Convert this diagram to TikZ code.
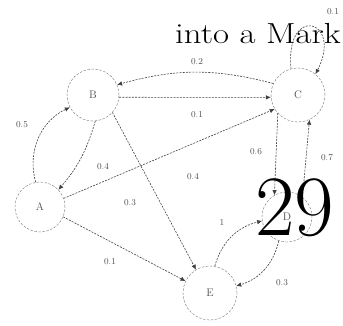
\documentclass[tikz,border=0pt]{standalone}
\usepackage{xcolor}
\usepackage{tikz}
\usetikzlibrary{arrows.meta}
\tikzset{
  statenode/.style={circle,draw=black!55,dash pattern=on 2.5pt off 1.5pt,
    minimum size=50pt,inner sep=0pt,font=\fontsize{11}{12}\selectfont,text=black!70},
  chainarrow/.style={-{Latex[length=5pt,width=4.5pt]},draw=black!75,
    dash pattern=on 2pt off 1.2pt,line width=0.6pt},
  problabel/.style={font=\fontsize{9}{10}\selectfont,text=black!70,inner sep=1pt},
  pagetext/.style={anchor=base west,inner sep=0pt,text=black}
}
\begin{document}
\begin{tikzpicture}[x=1pt,y=1pt]
  \useasboundingbox (0,0) rectangle (343,325);
  \clip (0,0) rectangle (343,325);
  \node[statenode] (A) at (40,118) {A};
  \node[statenode,minimum size=52pt] (B) at (93,230) {B};
  \node[statenode,minimum size=54pt] (C) at (298,230) {C};
  \node[statenode] (D) at (287,108) {D};
  \node[statenode,minimum size=54pt] (E) at (210,32) {E};

  \draw[chainarrow] (C.155) to[bend right=15] (B.23);
  \draw[chainarrow] (B.-5) -- (C.185);
  \draw[chainarrow] (C.105) .. controls +(-6,65) and +(28,55) .. (C.50);
  \draw[chainarrow] (A.100) to[bend left=40] (B.208);
  \draw[chainarrow] (B.275) to[bend left=12] (A.43);
  \draw[chainarrow] (A.20) -- (C.211);
  \draw[chainarrow] (A.-23) -- (E.154);
  \draw[chainarrow] (B.-42) -- (E.121);
  \draw[chainarrow] (E.80) to[bend left=30] (D.189);
  \draw[chainarrow] (D.251) to[bend left=30] (E.15);
  \draw[chainarrow] (C.222) -- (D.120);
  \draw[chainarrow] (D.52) -- (C.-65);

  \node[problabel] (p1) at (197,263) {0.2};
  \node[problabel] (p2) at (197,210) {0.1};
  \node[problabel] (p3) at (333,313) {0.1};
  \node[problabel] (p4) at (22,200) {0.5};
  \node[problabel] (p5) at (103,158) {0.4};
  \node[problabel] (p6) at (193,148) {0.4};
  \node[problabel] (p7) at (130,122) {0.3};
  \node[problabel] (p8) at (110,63) {0.1};
  \node[problabel] (p9) at (222,102) {1};
  \node[problabel] (p10) at (282,42) {0.3};
  \node[problabel] (p11) at (256,173) {0.6};
  \node[problabel] (p12) at (327,167) {0.7};

  \node[pagetext,font=\fontsize{29}{32}\selectfont,xscale=1.2,transform shape]
    (head) at (175,282) {into a Mark};
  \node[pagetext,font=\fontsize{86}{90}\selectfont] (pgnum) at (255,90) {29};
\end{tikzpicture}
\end{document}
